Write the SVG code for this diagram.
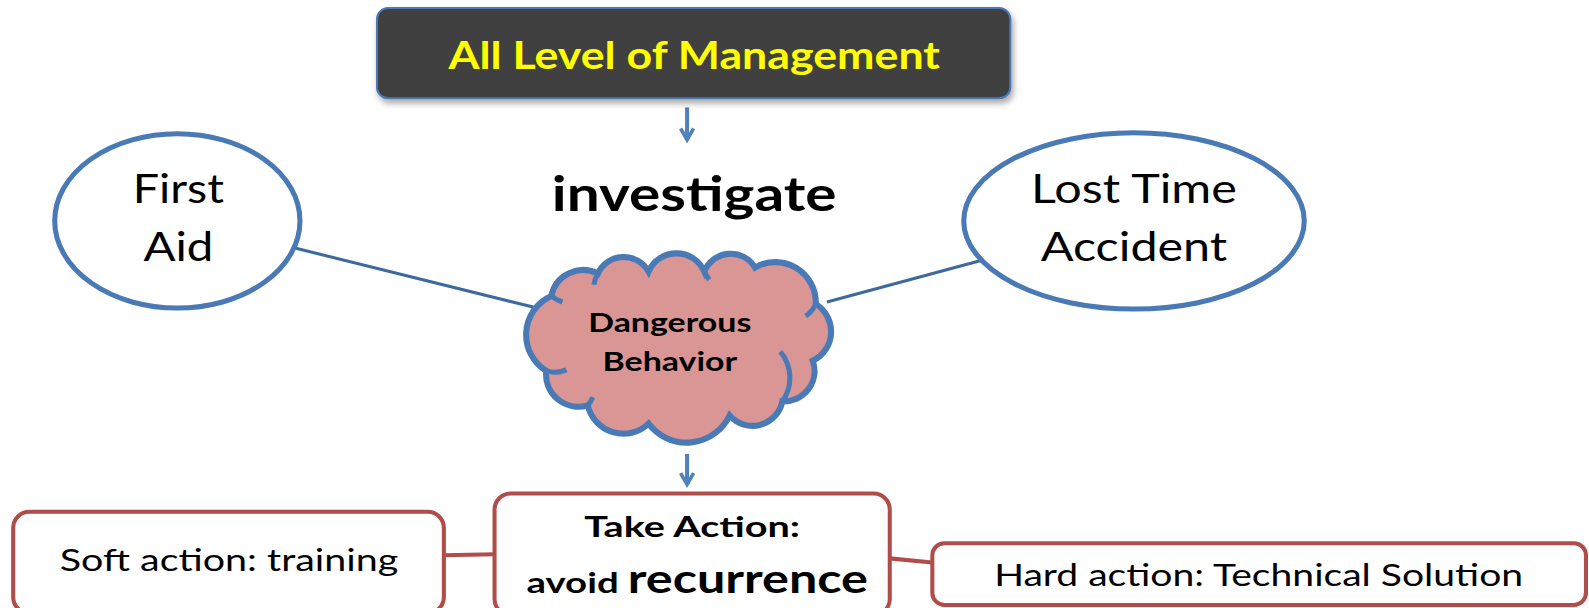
<svg xmlns="http://www.w3.org/2000/svg" width="1589" height="608" viewBox="0 0 1589 608">
<defs>
<style>
text{font-family:Lato,"Open Sans","Liberation Sans",sans-serif;text-anchor:middle}
.b{font-weight:bold}
.blue{fill:#fff;stroke:#4a7ab5;stroke-width:5}
.red{fill:#fff;stroke:#b04d4a;stroke-width:4}
.conn{stroke:#3d6a9e;stroke-width:3;fill:none}
.rconn{stroke:#b04d4a;stroke-width:4;fill:none}
.arr{stroke:#4f81bd;stroke-width:4;fill:none}
</style>
<marker id="ah" viewBox="0 0 10 10" refX="8" refY="5" markerWidth="4" markerHeight="4" orient="auto" markerUnits="strokeWidth">
<path d="M1,1 L8,5 L1,9" fill="none" stroke="#4f81bd" stroke-width="2.2"/>
</marker>
<filter id="sh" x="-5%" y="-10%" width="110%" height="130%">
<feDropShadow dx="2" dy="4" stdDeviation="3" flood-color="#000" flood-opacity="0.35"/>
</filter>
</defs>
<g transform="scale(1.0134)">
<g id="connectors">
<line class="conn" x1="292" y1="245" x2="534" y2="305"/>
<line class="conn" x1="968" y1="257" x2="816" y2="298"/>
<line class="arr" x1="678" y1="106" x2="678" y2="138" marker-end="url(#ah)"/>
<line class="arr" x1="678" y1="448" x2="678" y2="478" marker-end="url(#ah)"/>
<line class="rconn" x1="438" y1="548" x2="488" y2="547"/>
<line class="rconn" x1="878" y1="551" x2="920" y2="555"/>
</g>
<g id="management">
<rect x="372" y="8" width="625" height="89" rx="11" fill="#404040" stroke="#4a7ab5" stroke-width="2" filter="url(#sh)"/>
<text class="b" x="685" y="68" font-size="38" fill="#ffff00" textLength="485" lengthAdjust="spacingAndGlyphs">All Level of Management</text>
</g>
<g id="investigate">
<text class="b" x="685" y="208" font-size="48" fill="#000" textLength="281" lengthAdjust="spacingAndGlyphs">investigate</text>
</g>
<g id="first-aid">
<ellipse class="blue" cx="175" cy="218" rx="121" ry="86"/>
<text x="176" y="200" font-size="40" fill="#000" textLength="90" lengthAdjust="spacingAndGlyphs">First</text>
<text x="176" y="258" font-size="40" fill="#000" textLength="69" lengthAdjust="spacingAndGlyphs">Aid</text>
</g>
<g id="lost-time">
<ellipse class="blue" cx="1119" cy="218" rx="168" ry="87"/>
<text x="1119" y="200" font-size="40" fill="#000" textLength="203" lengthAdjust="spacingAndGlyphs">Lost Time</text>
<text x="1119" y="258" font-size="40" fill="#000" textLength="184" lengthAdjust="spacingAndGlyphs">Accident</text>
</g>
<g id="dangerous">
<path d="M544,292 A32,32 0 0 1 590,270 A28,28 0 0 1 640,268 A30,30 0 0 1 695,268 A28,28 0 0 1 745,264 A40,40 0 0 1 805,300 A32,32 0 0 1 802,356 A30,30 0 0 1 772,396 A30,30 0 0 1 720,410 A47,47 0 0 1 640,418 A36,36 0 0 1 580,400 A32,32 0 0 1 539,366 A42,42 0 0 1 544,292 Z" fill="#d99694" stroke="#4a7ab5" stroke-width="6"/>
<path d="M544,292 A32,32 0 0 0 555,298 M590,270 A28,28 0 0 0 586,281 M695,268 A30,30 0 0 0 700,276 M805,300 A30,30 0 0 1 795,312 M772,396 A40,40 0 0 0 770,347 M580,400 A30,30 0 0 0 585,392 M539,366 A30,30 0 0 0 559,365" fill="none" stroke="#4a7ab5" stroke-width="5"/>
<text class="b" x="661" y="328" font-size="26" fill="#000" textLength="161" lengthAdjust="spacingAndGlyphs">Dangerous</text>
<text class="b" x="661" y="366" font-size="26" fill="#000" textLength="133" lengthAdjust="spacingAndGlyphs">Behavior</text>
</g>
<g id="take-action">
<rect class="red" x="488" y="487" width="390" height="120" rx="16"/>
<text class="b" x="683" y="530" font-size="28" fill="#000" textLength="213" lengthAdjust="spacingAndGlyphs">Take Action:</text>
<text class="b" x="565" y="585" font-size="28" fill="#000" textLength="91" lengthAdjust="spacingAndGlyphs">avoid</text>
<text class="b" x="738" y="585" font-size="40" fill="#000" textLength="237" lengthAdjust="spacingAndGlyphs">recurrence</text>
</g>
<g id="soft-action">
<rect class="red" x="13" y="505" width="425" height="100" rx="16"/>
<text x="226" y="563" font-size="30" fill="#000" textLength="334" lengthAdjust="spacingAndGlyphs">Soft action: training</text>
</g>
<g id="hard-action">
<rect class="red" x="920" y="536" width="645" height="61" rx="12"/>
<text x="1242" y="578" font-size="30" fill="#000" textLength="522" lengthAdjust="spacingAndGlyphs">Hard action: Technical Solution</text>
</g>
</g>
</svg>
